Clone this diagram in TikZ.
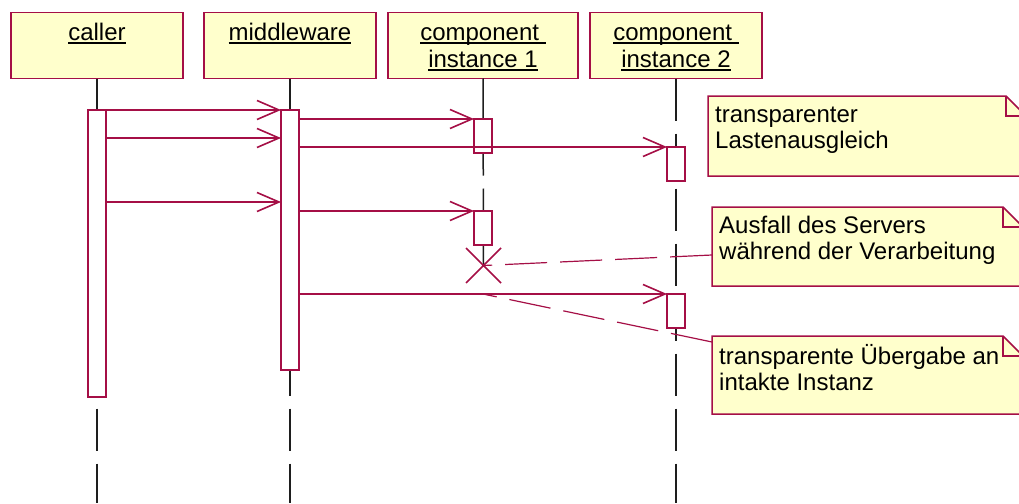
\documentclass[tikz,border=0pt]{standalone}
\usepackage{fontspec}
\setmainfont{Liberation Sans}
\usetikzlibrary{arrows.meta}

\definecolor{umlred}{RGB}{165,15,70}
\definecolor{umlyellow}{RGB}{255,255,204}
\definecolor{lifegray}{RGB}{30,30,30}

\newsavebox{\headbox}
\newcommand{\headul}[1]{\sbox{\headbox}{#1}\rlap{\rule[-4pt]{\wd\headbox}{2pt}}\usebox{\headbox}}

\tikzset{
  headrect/.style={draw=umlred, fill=umlyellow, line width=1.5pt, minimum width=172pt, minimum height=66pt, inner sep=0pt, outer sep=0pt},
  headtext/.style={anchor=north, align=center, inner sep=0pt, yshift=-8.6pt, font=\fontsize{24}{27}\selectfont},
  lifeline/.style={draw=lifegray, line width=1.5pt, dash pattern=on 42pt off 13pt},
  actbox/.style={draw=umlred, fill=white, line width=1.5pt, minimum width=18pt, inner sep=0pt, outer sep=0pt, anchor=north},
  message/.style={draw=umlred, line width=1.2pt, -{Straight Barb[length=22pt, width=19pt, line width=1.6pt]}},
  notebox/.style={minimum height=80pt, inner sep=0pt, outer sep=0pt},
  noteline/.style={draw=umlred, fill=umlyellow, line width=1.5pt},
  notetext/.style={anchor=north west, align=left, inner sep=0pt, xshift=7pt, yshift=-7.8pt, font=\fontsize{24}{26}\selectfont},
  notelink/.style={draw=umlred, line width=1.2pt, dash pattern=on 42pt off 13pt},
  killmark/.style={draw=umlred, line width=1.5pt}
}

\begin{document}
\begin{tikzpicture}[x=1pt, y=-1pt]
  \useasboundingbox (0,0) rectangle (1019,503);
  \clip (0,0) rectangle (1019,503);

  % Drawing object boxes
  \node[headrect] (hdCaller) at (97,45.5) {};
  \node[headtext] (txCaller) at (hdCaller.north) {\strut\headul{caller}};
  \node[headrect] (hdMiddle) at (290,45.5) {};
  \node[headtext] (txMiddle) at (hdMiddle.north) {\strut\headul{middleware}};
  \node[headrect, minimum width=190pt] (hdInst1) at (483,45.5) {};
  \node[headtext] (txInst1) at (hdInst1.north) {\strut\headul{component\ }\\\strut\headul{instance 1}};
  \node[headrect] (hdInst2) at (676,45.5) {};
  \node[headtext] (txInst2) at (hdInst2.north) {\strut\headul{component\ }\\\strut\headul{instance 2}};

  % Marking points of destruction and handover
  \coordinate (xmark) at (483.5,265.5);
  \coordinate (handover) at (483,294);

  % Drawing lifelines
  \draw[lifeline] (hdCaller.south) -- (97,503);
  \draw[lifeline] (hdMiddle.south) -- (290,503);
  \draw[lifeline] (hdInst1.south) -- (xmark);
  \draw[lifeline] (hdInst2.south) -- (676,503);

  % Drawing activation boxes
  \node[actbox, minimum height=287pt] (actCaller) at (97,110) {};
  \node[actbox, minimum height=260pt] (actMiddle) at (290,110) {};
  \node[actbox, minimum height=34pt] (actInst1a) at (483,119) {};
  \node[actbox, minimum height=34pt] (actInst1b) at (483,211) {};
  \node[actbox, minimum height=34pt] (actInst2a) at (676,147) {};
  \node[actbox, minimum height=34pt] (actInst2b) at (676,294) {};

  % Drawing messages caller -> middleware
  \draw[message] (actCaller.north east) -- (actMiddle.north west);
  \draw[message] (actCaller.east |- 0,138) -- (actMiddle.west |- 0,138);
  \draw[message] (actCaller.east |- 0,202) -- (actMiddle.west |- 0,202);

  % Drawing messages middleware -> instances
  \draw[message] (actMiddle.east |- actInst1a.north) -- (actInst1a.north west);
  \draw[message] (actMiddle.east |- actInst2a.north) -- (actInst2a.north west);
  \draw[message] (actMiddle.east |- actInst1b.north) -- (actInst1b.north west);
  \draw[message] (actMiddle.east |- actInst2b.north) -- (actInst2b.north west);

  % Drawing destruction mark
  \draw[killmark] (xmark) +(-17.5,-17.5) -- +(17.5,17.5) (xmark) +(17.5,-17.5) -- +(-17.5,17.5);

  % Drawing note balance
  \node[notebox, minimum width=318pt] (noteBalance) at (867,136) {};
  \filldraw[noteline] (noteBalance.south west) -- (noteBalance.north west) -- ([xshift=-20pt]noteBalance.north east) -- ([yshift=-20pt]noteBalance.north east) -- (noteBalance.south east) -- cycle;
  \draw[noteline, fill=none] ([xshift=-20pt]noteBalance.north east) |- ([yshift=-20pt]noteBalance.north east);
  \node[notetext] (txBalance) at (noteBalance.north west) {\strut transparenter\\\strut Lastenausgleich};

  % Drawing note failure
  \node[notebox, minimum width=311pt, minimum height=79pt] (noteFailure) at (867.5,246.5) {};
  \filldraw[noteline] (noteFailure.south west) -- (noteFailure.north west) -- ([xshift=-20pt]noteFailure.north east) -- ([yshift=-20pt]noteFailure.north east) -- (noteFailure.south east) -- cycle;
  \draw[noteline, fill=none] ([xshift=-20pt]noteFailure.north east) |- ([yshift=-20pt]noteFailure.north east);
  \node[notetext] (txFailure) at (noteFailure.north west) {\strut Ausfall des Servers\\\strut während der Verarbeitung};

  % Drawing note handover
  \node[notebox, minimum width=311pt, minimum height=78pt] (noteHandover) at (867.5,375) {};
  \filldraw[noteline] (noteHandover.south west) -- (noteHandover.north west) -- ([xshift=-20pt]noteHandover.north east) -- ([yshift=-20pt]noteHandover.north east) -- (noteHandover.south east) -- cycle;
  \draw[noteline, fill=none] ([xshift=-20pt]noteHandover.north east) |- ([yshift=-20pt]noteHandover.north east);
  \node[notetext] (txHandover) at (noteHandover.north west) {\strut transparente Übergabe an\\\strut intakte Instanz};

  % Drawing note links
  \draw[notelink] (noteFailure.west |- 0,255) -- (xmark);
  \draw[notelink] (noteHandover.west |- 0,342) -- (handover);
\end{tikzpicture}
\end{document}
